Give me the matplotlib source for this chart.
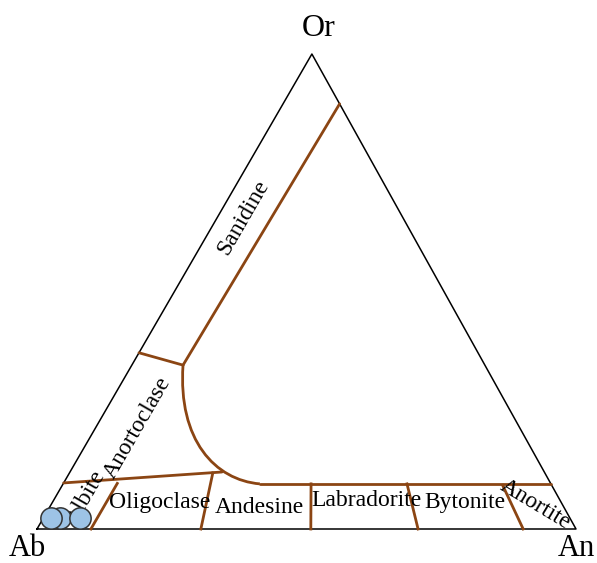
import numpy as np
import matplotlib
matplotlib.use("Agg")
import matplotlib.pyplot as plt
from matplotlib.path import Path
from matplotlib.patches import PathPatch

plt.rcParams['font.family'] = ['Liberation Serif', 'DejaVu Serif']

# 삼각도 꼭짓점 라벨
corner_labels = ['Ab', 'An', 'Or']

# 경계선 (An, Or 몰분율)
sanidine_an = [0.105, 0.095]
sanidine_or = [0.895, 0.345]

anortoclase_an = [0.0, 0.095]
anortoclase_or = [0.371, 0.345]

# 곡선 경계 (베지어 조절점) + 수평선 끝
curve_an = [0.095, 0.166, 0.278, 0.365]
curve_or = [0.345, 0.187, 0.103, 0.095]
plag_top_an = [0.365, 0.905]
plag_top_or = [0.095, 0.095]

oligo_top_an = [0.0, 0.282]
oligo_top_or = [0.097, 0.120]

# 사장석 구분선 (위쪽 An, 아래쪽 An, 위쪽 Or)
divider_top_an = [0.100, 0.266, 0.460, 0.638, 0.817]
divider_bot_an = [0.100, 0.304, 0.508, 0.707, 0.902]
divider_top_or = [0.096, 0.118, 0.095, 0.095, 0.092]

# 시료 (An, Or)
sample_an = [0.031, 0.014, 0.068]
sample_or = [0.023, 0.023, 0.023]

region_names = ['Sanidine', 'Anortoclase', 'Albite', 'Oligoclase', 'Andesine',
                'Labradorite', 'Bytonite', 'Anortite']

APEX_X = 0.51  # 꼭짓점 Or의 가로 위치 (그림 비율)


def to_xy(an, orr):
    an = np.asarray(an, dtype=float)
    orr = np.asarray(orr, dtype=float)
    return an + APEX_X * orr, orr


fig = plt.figure(figsize=(5.97, 5.63), dpi=100)
ax = fig.add_axes([37 / 597, 34 / 563, 539 / 597, 475 / 563])
ax.set_xlim(0, 1)
ax.set_ylim(0, 1)
ax.axis('off')

brown = '#8B4513'

# 삼각형 외곽
tx, ty = to_xy([0, 1, 0, 0], [0, 0, 1, 0])
ax.plot(tx, ty, color='black', lw=1.1, clip_on=False, zorder=2)

# 직선 경계
for an_list, or_list in [(sanidine_an, sanidine_or), (anortoclase_an, anortoclase_or),
                         (plag_top_an, plag_top_or), (oligo_top_an, oligo_top_or)]:
    x, y = to_xy(an_list, or_list)
    ax.plot(x, y, color=brown, lw=2, solid_capstyle='round', clip_on=False, zorder=3)

# 곡선 경계
cx, cy = to_xy(curve_an, curve_or)
curve = Path(np.column_stack([cx, cy]),
             [Path.MOVETO, Path.CURVE4, Path.CURVE4, Path.CURVE4])
ax.add_patch(PathPatch(curve, facecolor='none', edgecolor=brown, lw=2,
                       clip_on=False, zorder=3))

for a_top, a_bot, o_top in zip(divider_top_an, divider_bot_an, divider_top_or):
    x, y = to_xy([a_top, a_bot], [o_top, 0])
    ax.plot(x, y, color=brown, lw=2, clip_on=False, zorder=3)

# 영역 이름
label_pos = [(0.382, 0.657, 60), (0.186, 0.213, 60), (0.090, 0.066, 60),
             (0.228, 0.055, 0), (0.412, 0.046, 0), (0.612, 0.061, 0),
             (0.794, 0.055, 0), (0.924, 0.051, -31)]
for name, (px, py, rot) in zip(region_names, label_pos):
    ax.text(px, py, name, fontsize=17, rotation=rot, ha='center', va='center',
            rotation_mode='anchor', zorder=4)

# 꼭짓점 라벨
ax.text(-0.017, -0.057, corner_labels[0], fontsize=22, ha='center', va='baseline')
ax.text(1.0, -0.057, corner_labels[1], fontsize=22, ha='center', va='baseline')
ax.text(0.523, 1.038, corner_labels[2], fontsize=23, ha='center', va='baseline')

# 시료 점
sx, sy = to_xy(sample_an, sample_or)
ax.scatter(sx, sy, s=235, facecolor='#9DC3E6', edgecolor='#333333', linewidth=1.1,
           zorder=5, clip_on=False)

fig.savefig('out.png', dpi=100)
